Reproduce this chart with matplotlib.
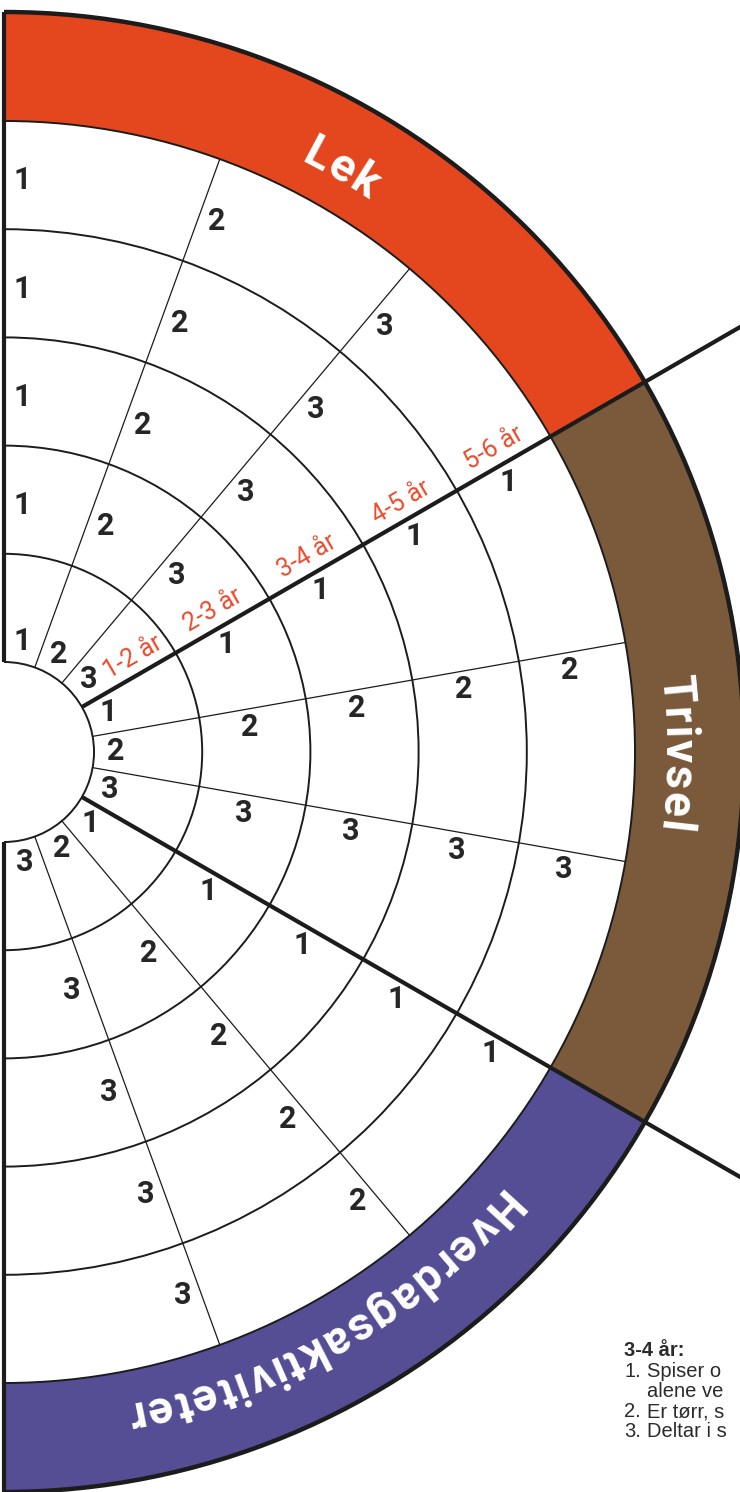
import numpy as np
import matplotlib
matplotlib.use("Agg")
import matplotlib.pyplot as plt
from matplotlib.patches import Wedge, Arc
from matplotlib.font_manager import FontProperties
from matplotlib.backends.backend_agg import get_hinting_flag

# ---------------- data ----------------
categories = ["Lek", "Trivsel", "Hverdagsaktiviteter"]
category_colors = ["#E4461D", "#7A5A3A", "#564E94"]
age_groups = ["1-2 år", "2-3 år", "3-4 år", "4-5 år", "5-6 år"]
item_numbers = ["1", "2", "3"]
note_title = "3-4 år:"
note_numbers = ["1.", "", "2.", "3."]
note_texts = ["Spiser o", "alene ve", "Er tørr, s", "Deltar i s"]

# ---------------- layout / style ----------------
W_PX, H_PX = 740, 1492
fig = plt.figure(figsize=(W_PX / 100, H_PX / 100), dpi=100)
ax = fig.add_axes([0, 0, 1, 1])
ax.set_xlim(0, W_PX)
ax.set_ylim(0, H_PX)
ax.axis("off")
fig.patch.set_facecolor("white")

CX, CY = 4, H_PX - 752
R_HUB, R_BAND, R_OUT = 90, 631, 740
ring_edges = np.linspace(R_HUB, R_BAND, len(age_groups) + 1)
sector_span = 180 / len(categories)
item_span = sector_span / len(item_numbers)
INK = "#1c1c1c"
NUM_COLOR = "#262626"
AGE_COLOR = "#EC4A2C"


def polar(r, deg):
    t = np.radians(deg)
    return CX + r * np.cos(t), CY + r * np.sin(t)


# bands
for i, col in enumerate(category_colors):
    t2 = 90 - i * sector_span
    t1 = t2 - sector_span
    ax.add_patch(Wedge((CX, CY), R_OUT, t1, t2, width=R_OUT - R_BAND,
                       facecolor=col, edgecolor="none", zorder=1))

# ring arcs
for r in ring_edges:
    ax.add_patch(Arc((CX, CY), 2 * r, 2 * r, theta1=-90, theta2=90,
                     lw=1.4, color=INK, zorder=3))
ax.add_patch(Arc((CX, CY), 2 * R_OUT, 2 * R_OUT, theta1=-90, theta2=90,
                 lw=3.2, color=INK, zorder=3))

# radial lines
n_lines = len(categories) * len(item_numbers)
for m in range(n_lines + 1):
    a = 90 - m * item_span
    if m % len(item_numbers) == 0:
        r_end = R_OUT if abs(a) == 90 else 1200
        x0, y0 = polar(R_HUB, a)
        x1, y1 = polar(r_end, a)
        ax.plot([x0, x1], [y0, y1], color=INK, lw=3.0, solid_capstyle="butt", zorder=4)
    else:
        x0, y0 = polar(R_HUB, a)
        x1, y1 = polar(R_BAND, a)
        ax.plot([x0, x1], [y0, y1], color=INK, lw=0.9, zorder=2)

# item numbers in cells
num_fp = FontProperties(family="Roboto", weight="bold", size=22)
PERP = 18
for c in range(len(categories)):
    for j, lab in enumerate(item_numbers):
        a0 = 90 - c * sector_span - j * item_span
        for k in range(len(age_groups)):
            mid = (ring_edges[k] + ring_edges[k + 1]) / 2
            r = R_HUB + 22 if k == 0 else mid - 5
            a = a0 - np.degrees(np.arcsin(PERP / r))
            x, y = polar(r, a)
            ax.text(x, y, lab, fontproperties=num_fp, color=NUM_COLOR,
                    ha="center", va="center", zorder=5)

# age labels along the Lek/Trivsel boundary
age_fp = FontProperties(family="Roboto", size=18)
a_line = 90 - sector_span
for k, lab in enumerate(age_groups):
    mid = (ring_edges[k] + ring_edges[k + 1]) / 2
    r = mid + 16 if k == 0 else mid
    a = a_line + np.degrees(np.arcsin(18 / r))
    x, y = polar(r, a)
    ax.text(x, y, lab, fontproperties=age_fp, color=AGE_COLOR, rotation=a_line,
            ha="center", va="center", rotation_mode="anchor", zorder=5)

# curved band labels
band_fp = FontProperties(family="Roboto", weight="bold", size=33)
renderer = fig.canvas.get_renderer()
TRACK = 2.0


def ink_w(s):
    return renderer.get_text_width_height_descent(s, band_fp, ismath=False)[0]


def advance(ch):
    return ink_w(ch + ch) - ink_w(ch)


def left_bearing(ch):
    try:
        f = renderer._prepare_font(band_fp)
        f.set_text(ch, 0, flags=get_hinting_flag())
        return f.get_bitmap_offset()[0] / 64.0
    except Exception:
        return 0.0


cap_h = renderer.get_text_width_height_descent("H", band_fp, ismath=False)[1]
r_base = 679 - cap_h / 2
for i, lab in enumerate(categories):
    theta_c = 90 - (i + 0.5) * sector_span
    advs = [advance(ch) for ch in lab]
    inks = [ink_w(ch) for ch in lab]
    lsbs = [left_bearing(ch) for ch in lab]
    total = sum(advs) + TRACK * (len(lab) - 1)
    pos = 0.0
    for ch, a_w, w_i, lsb in zip(lab, advs, inks, lsbs):
        ink_c = pos + lsb + w_i / 2
        pos += a_w + TRACK
        off = ink_c - total / 2
        th = theta_c - np.degrees(off / r_base)
        px, py = polar(r_base, th)
        # Agg shifts the glyph bitmap by its bearing along screen x
        ax.text(px - lsb, py, ch, fontproperties=band_fp, color="white",
                rotation=th - 90, ha="center", va="baseline",
                rotation_mode="anchor", zorder=6)

# note text at bottom right
note_fp_b = FontProperties(family="Liberation Sans", weight="bold", size=14.5)
note_fp = FontProperties(family="Liberation Sans", size=14.5)
ax.text(624, H_PX - 1356, note_title, fontproperties=note_fp_b, color="#2b2b2b",
        ha="left", va="baseline")
for i, (nm, tx) in enumerate(zip(note_numbers, note_texts)):
    yb = H_PX - (1377 + 20 * i)
    if nm:
        ax.text(624, yb, nm, fontproperties=note_fp, color="#2b2b2b",
                ha="left", va="baseline")
    ax.text(647, yb, tx, fontproperties=note_fp, color="#2b2b2b",
            ha="left", va="baseline")

fig.savefig("out.png", dpi=100)
